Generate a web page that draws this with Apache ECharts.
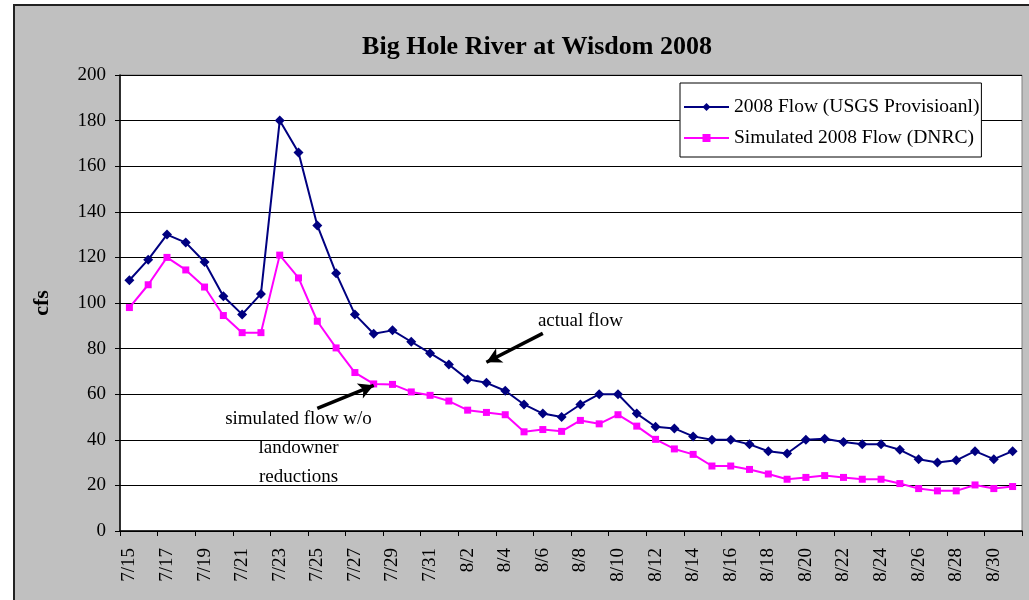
<!DOCTYPE html>
<html>
<head>
<meta charset="utf-8">
<script src="https://cdn.jsdelivr.net/npm/echarts@6/dist/echarts.min.js"></script>
<style>
  html, body { margin: 0; padding: 0; background: #fff; }
  #wrap { position: absolute; left: 0; top: 0; width: 1029px; height: 600px; overflow: hidden; background: #fff; }
  #box { position: absolute; left: 13px; top: 4px; width: 1100px; height: 700px; background: #c0c0c0; border: 2px solid #222; }
  #chart { position: absolute; left: 0; top: 0; width: 1029px; height: 600px; }
</style>
</head>
<body>
<div id="wrap">
  <div id="box"></div>
  <div id="chart"></div>
</div>
<script>
// dates 7/15 .. 8/31
const days = [
  "7/15", "7/16", "7/17", "7/18", "7/19", "7/20", "7/21", "7/22", "7/23", "7/24",
  "7/25", "7/26", "7/27", "7/28", "7/29", "7/30", "7/31",
  "8/1", "8/2", "8/3", "8/4", "8/5", "8/6", "8/7", "8/8", "8/9", "8/10",
  "8/11", "8/12", "8/13", "8/14", "8/15", "8/16", "8/17", "8/18", "8/19", "8/20",
  "8/21", "8/22", "8/23", "8/24", "8/25", "8/26", "8/27", "8/28", "8/29", "8/30", "8/31"
];

// 2008 Flow (USGS Provisioanl)
const usgsFlow = [
  110, 119, 130, 126.5, 118, 103, 95, 104, 180, 166,
  134, 113, 95, 86.5, 88, 83, 78,
  73, 66.5, 65, 61.5, 55.5, 51.5, 50, 55.5, 60, 60,
  51.5, 45.7, 45, 41.5, 40, 40, 38, 35, 34, 40,
  40.5, 39, 38, 38, 35.6, 31.5, 30, 31, 35, 31.5, 35
];

// Simulated 2008 Flow (DNRC)
const simFlow = [
  98, 108, 120, 114.5, 107, 94.5, 87, 87, 121, 111,
  92, 80.3, 69.5, 64.5, 64.3, 61, 59.5,
  57, 53, 52, 51, 43.5, 44.5, 43.7, 48.5, 47, 51,
  46, 40.2, 36, 33.6, 28.5, 28.5, 27, 25, 22.7, 23.5,
  24.3, 23.5, 22.7, 22.7, 20.8, 18.6, 17.6, 17.6, 20.2, 18.6, 19.5
];

// annotations, in [day index, cfs]
const actualArrow = [[22.3, 86.7], [18.95, 74]];
const simArrow = [[10.05, 53.8], [12.85, 63.9]];
const actualText = [23.55, 92.3];
const simText = [8.97, 36.2];

const serif = "'Liberation Serif', 'DejaVu Serif', serif";

const chart = echarts.init(document.getElementById("chart"), null, { renderer: "canvas" });

const arrowLine = (pts) => [{ coord: pts[0] }, { coord: pts[1] }];

chart.setOption({
  animation: false,
  backgroundColor: "transparent",
  title: {
    text: "Big Hole River at Wisdom 2008",
    left: 532,
    textAlign: "center",
    top: 29,
    textStyle: { fontFamily: serif, fontWeight: "bold", fontSize: 26, color: "#000" },
  },
  legend: {
    orient: "vertical",
    left: 680,
    top: 83,
    width: 300,
    padding: [14, 2, 9, 3],
    itemGap: 11,
    itemWidth: 45,
    itemHeight: 10,
    backgroundColor: "#fff",
    borderColor: "#000",
    borderWidth: 1,
    borderRadius: 0,
    textStyle: { fontFamily: serif, fontSize: 19.5, color: "#000" },
    data: ["2008 Flow (USGS Provisioanl)", "Simulated 2008 Flow (DNRC)"],
  },
  grid: {
    left: 120,
    right: 7,
    top: 75,
    bottom: 69,
    show: true,
    backgroundColor: "#fff",
    borderColor: "#808080",
    borderWidth: 1,
  },
  xAxis: {
    type: "category",
    data: days,
    boundaryGap: true,
    axisLine: { lineStyle: { color: "#000", width: 1.5 } },
    axisTick: { show: true, interval: 1, length: 5, lineStyle: { color: "#000" } },
    axisLabel: {
      interval: 1,
      rotate: 90,
      margin: 17,
      fontFamily: serif,
      fontSize: 19,
      color: "#000",
    },
    splitLine: { show: false },
  },
  yAxis: {
    type: "value",
    min: 0,
    max: 200,
    interval: 20,
    name: "cfs",
    nameLocation: "middle",
    nameRotate: 90,
    nameGap: 67,
    nameTextStyle: { fontFamily: serif, fontWeight: "bold", fontSize: 22, color: "#000" },
    axisLine: { show: true, lineStyle: { color: "#000", width: 1.5 } },
    axisTick: { show: true, length: 5, lineStyle: { color: "#000" } },
    axisLabel: { margin: 14, fontFamily: serif, fontSize: 19, color: "#000" },
    splitLine: { show: true, lineStyle: { color: "#000", width: 1 } },
  },
  series: [
    {
      name: "2008 Flow (USGS Provisioanl)",
      type: "line",
      data: usgsFlow,
      symbol: "diamond",
      symbolSize: 10,
      color: "#000080",
      lineStyle: { color: "#000080", width: 2 },
      itemStyle: { color: "#000080" },
      z: 3,
      markLine: {
        silent: true,
        symbol: ["none", "arrow"],
        symbolSize: [12, 15],
        label: { show: false },
        lineStyle: { color: "#000", width: 3.5, type: "solid" },
        emphasis: { disabled: true },
        data: [arrowLine(actualArrow), arrowLine(simArrow)],
      },
    },
    {
      name: "Simulated 2008 Flow (DNRC)",
      type: "line",
      data: simFlow,
      symbol: "rect",
      symbolSize: 7,
      color: "#ff00ff",
      lineStyle: { color: "#ff00ff", width: 2 },
      itemStyle: { color: "#ff00ff" },
      z: 2,
    },
  ],
});

// annotation texts, placed through the chart's own scales
const pa = chart.convertToPixel({ gridIndex: 0 }, actualText);
const ps = chart.convertToPixel({ gridIndex: 0 }, simText);
chart.setOption({
  graphic: [
    {
      type: "text",
      x: pa[0],
      y: pa[1],
      style: {
        text: "actual flow",
        font: "19px " + serif,
        fill: "#000",
        align: "center",
        verticalAlign: "middle",
      },
      z: 10,
    },
    {
      type: "text",
      x: ps[0],
      y: ps[1],
      style: {
        text: "simulated flow w/o\nlandowner\nreductions",
        font: "19px " + serif,
        lineHeight: 29,
        fill: "#000",
        align: "center",
        verticalAlign: "middle",
      },
      z: 10,
    },
  ],
});
</script>
</body>
</html>
